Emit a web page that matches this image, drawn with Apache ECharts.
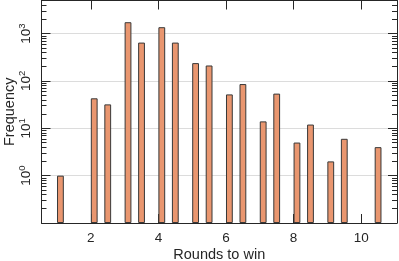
<!DOCTYPE html>
<html>
<head>
<meta charset="utf-8">
<script src="https://cdn.jsdelivr.net/npm/echarts@6/dist/echarts.min.js"></script>
<style>html,body{margin:0;padding:0;background:#fff}#c{width:399px;height:261px}</style>
</head>
<body>
<div id="c"></div>
<script>
// Bar positions (rounds to win) and frequencies
var rounds = [1.1, 2.1, 2.5, 3.1, 3.5, 4.1, 4.5, 5.1, 5.5, 6.1, 6.5, 7.1, 7.5, 8.1, 8.5, 9.1, 9.5, 10.5];
var frequency = [1, 43, 32, 1740, 646, 1365, 646, 238, 212, 52, 86, 14, 54, 5, 12, 2, 6, 4];
var xTicks = [2, 4, 6, 8, 10];
var yMajor = [1, 10, 100, 1000];
var yMinor = [0.2,0.3,0.4,0.5,0.6,0.7,0.8,0.9, 2,3,4,5,6,7,8,9, 20,30,40,50,60,70,80,90, 200,300,400,500,600,700,800,900, 2000,3000,4000,5000];

var X_MIN = 0.54, X_MAX = 11.06, Y_MIN = 0.1, Y_MAX = 5000;
var FONT = 'Liberation Sans';
var AX = '#262626';

function expLabel(v) {
  var e = Math.round(Math.log10(v));
  return '{b|10}{s|' + e + '}';
}

function yAxisBase(pos, opts) {
  return Object.assign({
    type: 'log', logBase: 10, position: pos, min: Y_MIN, max: Y_MAX, startValue: Y_MIN,
    axisLine: { show: true, lineStyle: { color: AX, width: 1 } },
    axisTick: { show: false },
    axisLabel: { show: false },
    splitLine: { show: false },
    minorTick: { show: false },
    minorSplitLine: { show: false }
  }, opts);
}

var chart = echarts.init(document.getElementById('c'), null, { renderer: 'canvas' });
chart.setOption({
  animation: false,
  backgroundColor: '#fff',
  grid: { left: 41.5, right: 2, top: 0.5, bottom: 38, containLabel: false, outerBoundsMode: 'none' },
  xAxis: [
    {
      type: 'value', position: 'bottom', min: X_MIN, max: X_MAX,
      name: 'Rounds to win', nameLocation: 'middle', nameGap: 24, nameMoveOverlap: false,
      nameTextStyle: { fontFamily: FONT, fontSize: 14.5, color: '#262626' },
      axisLine: { show: true, onZero: false, lineStyle: { color: AX, width: 1 } },
      axisTick: { show: true, inside: true, length: 9, customValues: xTicks, lineStyle: { color: AX } },
      axisLabel: { show: true, margin: 8, customValues: xTicks, fontFamily: FONT, fontSize: 13.5, color: '#262626' },
      splitLine: { show: false }
    },
    {
      type: 'value', position: 'top', min: X_MIN, max: X_MAX,
      axisLine: { show: true, onZero: false, lineStyle: { color: AX, width: 1 } },
      axisTick: { show: true, inside: true, length: 9, customValues: xTicks, lineStyle: { color: AX } },
      axisLabel: { show: false },
      splitLine: { show: false }
    }
  ],
  yAxis: [
    yAxisBase('left', {
      name: 'Frequency', nameLocation: 'middle', nameGap: 24, nameRotate: 90, nameMoveOverlap: false,
      nameTextStyle: { fontFamily: FONT, fontSize: 14.5, color: '#262626' },
      axisTick: { show: true, inside: true, length: 9, customValues: yMajor, lineStyle: { color: AX } },
      axisLabel: {
        show: true, rotate: 90, margin: 6, customValues: yMajor,
        formatter: expLabel,
        rich: {
          b: { fontFamily: FONT, fontSize: 13.5, color: '#262626' },
          s: { fontFamily: FONT, fontSize: 9.5, color: '#262626', verticalAlign: 'top', padding: [0, 0, 8, 0] }
        }
      },
      splitLine: { show: true, lineStyle: { color: '#dcdcdc', width: 1 } }
    }),
    yAxisBase('right', {
      axisTick: { show: true, inside: true, length: 9, customValues: yMajor, lineStyle: { color: AX } }
    }),
    yAxisBase('left', {
      axisLine: { show: false },
      axisTick: { show: true, inside: true, length: 5, customValues: yMinor, lineStyle: { color: AX } }
    }),
    yAxisBase('right', {
      axisLine: { show: false },
      axisTick: { show: true, inside: true, length: 5, customValues: yMinor, lineStyle: { color: AX } }
    })
  ],
  series: [{
    type: 'bar',
    xAxisIndex: 0, yAxisIndex: 0,
    barWidth: 6.8,
    data: rounds.map(function (r, i) { return [r, frequency[i]]; }),
    itemStyle: { color: '#E9966F', borderColor: '#383838', borderWidth: 1 }
  }]
});
</script>
</body>
</html>
